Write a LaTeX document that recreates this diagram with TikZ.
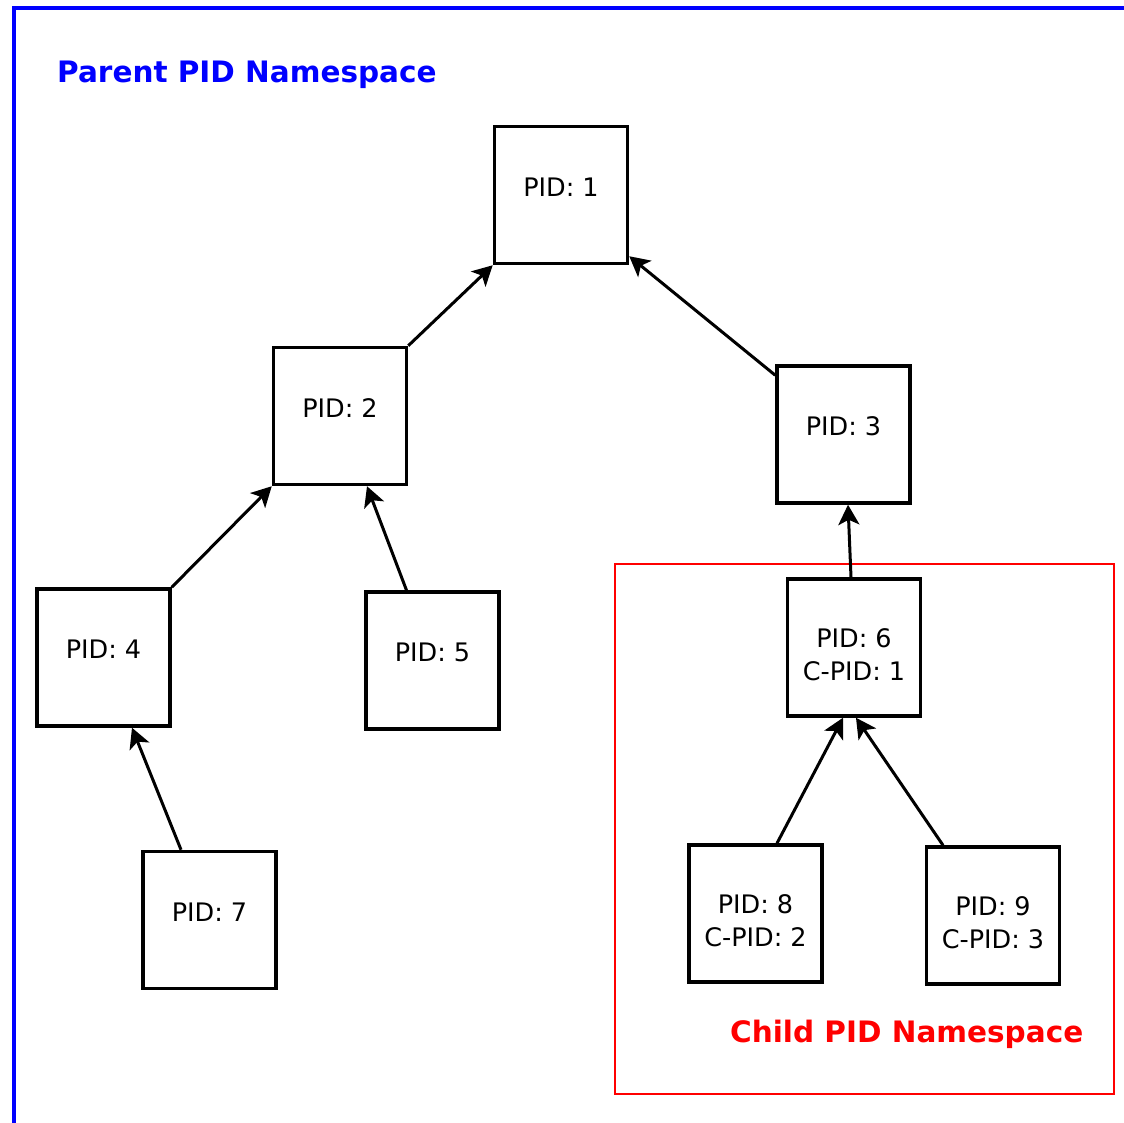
\documentclass[tikz,border=0pt]{standalone}
\usepackage{fontspec}
\setmainfont{DejaVu Sans}
\usetikzlibrary{arrows.meta}
\begin{document}
\begin{tikzpicture}[x=1pt,y=-1pt,
  proc/.style={draw=black, line width=3.5pt, minimum width=133pt, minimum height=137pt, inner sep=0pt},
  ptxt/.style={font=\fontsize{25.5}{33}\selectfont, align=center, text=black, inner sep=0pt},
  arr/.style={-{Stealth[length=20pt,width=21pt,inset=5pt]}, line width=3pt},
  nslabel/.style={font=\fontsize{29.5}{34}\selectfont\bfseries, anchor=base west, inner sep=0pt}]
\useasboundingbox (0,0) rectangle (1124,1123);

% outer namespace frame
\draw[blue, line width=3.5pt] (14,1123) -- (14,8) -- (1124,8);
\node[nslabel, text=blue] (parentlbl) at (57,83) {Parent PID Namespace};

% child namespace frame
\draw[red, line width=2.8pt] (615,564) rectangle (1114,1094);
\node[nslabel, text=red] (childlbl) at (730,1042) {Child PID Namespace};

% process boxes
\node[proc] (n1) at (561,195) {};
\node[proc] (n2) at (340,416) {};
\node[proc] (n3) at (843.5,434.5) {};
\node[proc] (n4) at (103.5,657.5) {};
\node[proc] (n5) at (432.5,660.5) {};
\node[proc] (n7) at (209.5,920) {};
\node[proc] (n6) at (854,647.5) {};
\node[proc] (n8) at (755.5,913.5) {};
\node[proc] (n9) at (993,915.5) {};

% box texts
\node[ptxt] (t1) at ([yshift=8pt]n1.center) {PID: 1};
\node[ptxt] (t2) at ([yshift=8pt]n2.center) {PID: 2};
\node[ptxt] (t3) at ([yshift=8pt]n3.center) {PID: 3};
\node[ptxt] (t4) at ([yshift=8pt]n4.center) {PID: 4};
\node[ptxt] (t5) at ([yshift=8pt]n5.center) {PID: 5};
\node[ptxt] (t7) at ([yshift=8pt]n7.center) {PID: 7};
\node[ptxt] (t6) at ([yshift=-7pt]n6.center) {PID: 6\\C-PID: 1};
\node[ptxt] (t8) at ([yshift=-7pt]n8.center) {PID: 8\\C-PID: 2};
\node[ptxt] (t9) at ([yshift=-7pt]n9.center) {PID: 9\\C-PID: 3};

% parent links
\draw[arr] (n2.north east) -- (n1.south west);
\draw[arr] ([yshift=-11pt]n3.north west) -- ([yshift=9pt]n1.south east);
\draw[arr] (n4.north east) -- (n2.south west);
\draw[arr] ([xshift=-26pt]n5.north) -- ([xshift=27pt]n2.south);
\draw[arr] ([xshift=-28.5pt]n7.north) -- ([xshift=28.5pt]n4.south);
\draw[arr] ([xshift=-3pt]n6.north) -- ([xshift=4.5pt]n3.south);
\draw[arr] ([xshift=21.5pt]n8.north) -- ([xshift=-11pt]n6.south);
\draw[arr] ([xshift=-50pt]n9.north) -- ([xshift=2pt]n6.south);
\end{tikzpicture}
\end{document}
